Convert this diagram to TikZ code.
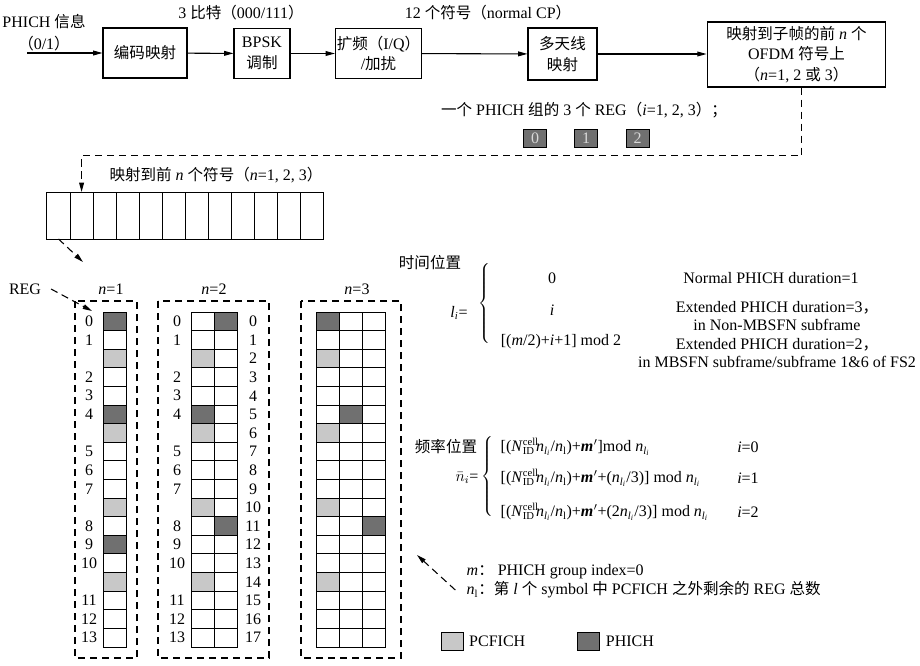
\documentclass[tikz,border=0pt]{standalone}
\usepackage{fontspec}
\setmainfont{Liberation Serif}
\newfontfamily\cjk[Scale=0.97]{Noto Sans CJK SC}
\usetikzlibrary{arrows.meta}
\newcommand{\zh}[1]{{\cjk #1}}
\newcommand{\nli}{\textit{n}\textsubscript{\textit{l}\textsubscript{\textit{i}}}}
\newcommand{\Ncell}{\textit{N}\rlap{\textsuperscript{cell}}\textsubscript{ID}\kern1pt}
\newcommand{\mprime}{\textbf{\textit{m}}\kern0.3pt$'$}
\definecolor{phgray}{RGB}{112,112,112}
\definecolor{pcgray}{RGB}{200,200,200}

\begin{document}
\begin{tikzpicture}[x=0.75pt,y=-0.75pt,
  font=\fontsize{12}{15.5}\selectfont,
  >={Triangle[length=7pt,width=3.6pt]},
  block/.style={draw,line width=0.8pt,align=center,inner sep=2pt},
  flow/.style={->,line width=0.8pt},
  dashline/.style={dash pattern=on 5.5pt off 3.5pt,line width=0.8pt},
  cell/.style={draw,line width=0.7pt,minimum width=17.25pt,minimum height=13.95pt,inner sep=0pt,outer sep=0pt},
  ph/.style={cell,fill=phgray},
  pc/.style={cell,fill=pcgray},
  twoline/.style={align=center,font=\fontsize{12}{14}\selectfont}]
  \useasboundingbox (0,0) rectangle (920,665);

  % processing chain
  \node[align=center,font=\fontsize{12}{16.5}\selectfont] (info) at (44,33) {PHICH \zh{信息}\\\zh{（}0/1\zh{）}};
  \coordinate (in) at (27,53);
  \node[block,minimum width=63pt,minimum height=37.5pt] (code) at (145,53) {\zh{编码映射}};
  \node[block,minimum width=42pt,minimum height=38pt] (bpsk) at (262,53.5) {BPSK\\\zh{调制}};
  \node[block,minimum width=63.75pt,minimum height=38pt,inner sep=1pt] (spread) at (378.5,53.5) {\zh{扩频（}I/Q\zh{）}\\/\zh{加扰}};
  \node[block,minimum width=51.75pt,minimum height=39pt] (ant) at (562.5,54) {\zh{多天线}\\\zh{映射}};
  \node[block,minimum width=134pt,minimum height=48.75pt] (map) at (796.5,54.5) {\zh{映射到子帧的前} \textit{n} \zh{个}\\OFDM \zh{符号上}\\\zh{（}\textit{n}=1, 2 \zh{或} 3\zh{）}};
  \draw[flow] (in) -- (code.west |- in);
  \draw[flow] (code) -- (bpsk);
  \draw[flow] (bpsk) -- (spread);
  \draw[flow] (spread) -- (ant);
  \draw[flow] (ant) -- (map.west |- ant);
  \node (bits) at (241,13) {3 \zh{比特（}000/111\zh{）}};
  \node (syms) at (488,13) {12 \zh{个符号（}normal CP\zh{）}};

  % one PHICH group
  \node (grp) at (584,110) {\zh{一个} PHICH \zh{组的} 3 \zh{个} REG\zh{（}\textit{i}=1, 2, 3\zh{）；}};
  \foreach \k/\x in {0/535,1/586,2/637.5}
    \node[ph,text=white!85!black,minimum height=13.5pt] (g\k) at (\x,138) {\k};

  % symbol strip
  \foreach \k in {0,...,11}
    \node[cell,minimum width=17.31pt,minimum height=35.25pt] (s\k) at (58.5+23.08*\k,215.5) {};
  \node (striplbl) at (216,175) {\zh{映射到前} \textit{n} \zh{个符号（}\textit{n}=1, 2, 3\zh{）}};
  \draw[dashline,->] ([xshift=4pt]map.south) -- ++(0,68) -| (s1.north);
  \coordinate (gtop) at (83,262);
  \draw[dashline,->] (s0.south) -- (gtop);

  % n=1
  \draw[dashline] (75,301) rectangle (137,658);
  \node (t1) at (111,289) {\textit{n}=1};
  \foreach \s [count=\r from 0] in {ph,cell,pc,cell,cell,ph,pc,cell,cell,cell,pc,cell,ph,cell,pc,cell,cell,cell}
    \node[\s] (a\r) at (114.5,321.3+18.61*\r) {};
  \foreach \t/\r in {0/0,1/1,2/3,3/4,4/5,5/7,6/8,7/9,8/11,9/12,10/13,11/15,12/16,13/17}
    \node (la\t) at (89,321.3+18.61*\r) {\t};
  \node (reg) at (25,289) {REG};
  \coordinate (regtip) at (92,311);
  \draw[dashline,->] ([xshift=4pt]reg.east) -- (regtip);

  % n=2
  \draw[dashline] (158,301) rectangle (269,658);
  \node (t2) at (214,289) {\textit{n}=2};
  \foreach \s [count=\r from 0] in {cell,cell,pc,cell,cell,ph,pc,cell,cell,cell,pc,cell,cell,cell,pc,cell,cell,cell}
    \node[\s] (b\r) at (202.5,321.3+18.61*\r) {};
  \foreach \s [count=\r from 0] in {ph,cell,cell,cell,cell,cell,cell,cell,cell,cell,cell,ph,cell,cell,cell,cell,cell,cell}
    \node[\s] (c\r) at (225.5,321.3+18.61*\r) {};
  \foreach \t/\r in {0/0,1/1,2/3,3/4,4/5,5/7,6/8,7/9,8/11,9/12,10/13,11/15,12/16,13/17}
    \node (lb\t) at (177,321.3+18.61*\r) {\t};
  \foreach \r in {0,...,17}
    \node (lc\r) at (253,321.3+18.61*\r) {\r};

  % n=3
  \draw[dashline] (301,301) rectangle (401,658);
  \node (t3) at (357,289) {\textit{n}=3};
  \foreach \s [count=\r from 0] in {ph,cell,pc,cell,cell,cell,pc,cell,cell,cell,pc,cell,cell,cell,pc,cell,cell,cell}
    \node[\s] (d\r) at (327.5,321.3+18.61*\r) {};
  \foreach \s [count=\r from 0] in {cell,cell,cell,cell,cell,ph,cell,cell,cell,cell,cell,cell,cell,cell,cell,cell,cell,cell}
    \node[\s] (e\r) at (350.5,321.3+18.61*\r) {};
  \foreach \s [count=\r from 0] in {cell,cell,cell,cell,cell,cell,cell,cell,cell,cell,cell,ph,cell,cell,cell,cell,cell,cell}
    \node[\s] (f\r) at (373.5,321.3+18.61*\r) {};

  % time position
  \node (tpos) at (430,263) {\zh{时间位置}};
  \node (li) at (459,313) {\textit{l}\textsubscript{\textit{i}}=};
  \node (tbrace) at (485,303) {$\left\{\vrule height 27pt depth 27pt width 0pt\right.$};
  \node (tv0) at (552,278) {0};
  \node (tv1) at (552,310) {\textit{i}};
  \node (tv2) at (561,342) {[(\textit{m}/2)+\textit{i}+1] mod 2};
  \node (tc0) at (771,278) {Normal PHICH duration=1};
  \node[twoline] (tc1) at (777,316) {Extended PHICH duration=3\zh{，}\\in Non-MBSFN subframe};
  \node[twoline] (tc2) at (777,353) {Extended PHICH duration=2\zh{，}\\in MBSFN subframe/subframe 1\&6 of FS2};

  % frequency position
  \node (fpos) at (446,447) {\zh{频率位置}};
  \node (ni) at (467,478) {$\bar{n}_i$=};
  \node (fbrace) at (488,478) {$\left\{\vrule height 29pt depth 29pt width 0pt\right.$};
  \node[anchor=west] (fv0) at (496,447) {[(\Ncell\nli/\textit{n}\textsubscript{l})+\mprime]mod \nli};
  \node[anchor=west] (fv1) at (496,478) {[(\Ncell\nli/\textit{n}\textsubscript{l})+\mprime+(\nli/3)] mod \nli};
  \node[anchor=west] (fv2) at (496,512) {[(\Ncell\nli/\textit{n}\textsubscript{l})+\mprime+(2\nli/3)] mod \nli};
  \node (fc0) at (748,447) {\textit{i}=0};
  \node (fc1) at (748,478) {\textit{i}=1};
  \node (fc2) at (748,512) {\textit{i}=2};

  % notes
  \node[anchor=west] (nm) at (462,572) {\textit{m}\zh{：} PHICH group index=0};
  \node[anchor=west] (nl) at (462,590) {\textit{n}\textsubscript{l}\zh{：第} \textit{l} \zh{个} symbol \zh{中} PCFICH \zh{之外剩余的} REG \zh{总数}};
  \coordinate (notetip) at (417,555);
  \draw[dashline,->] ([xshift=-5pt]nl.west) -- (notetip);

  % legend
  \node[pc,minimum width=16pt,minimum height=13.5pt] (kpc) at (452.5,641) {};
  \node[anchor=west] (kpcl) at ([xshift=1pt]kpc.east) {PCFICH};
  \node[ph,minimum width=17pt,minimum height=13.5pt] (kph) at (588.5,641) {};
  \node[anchor=west] (kphl) at ([xshift=1pt]kph.east) {PHICH};
\end{tikzpicture}
\end{document}
